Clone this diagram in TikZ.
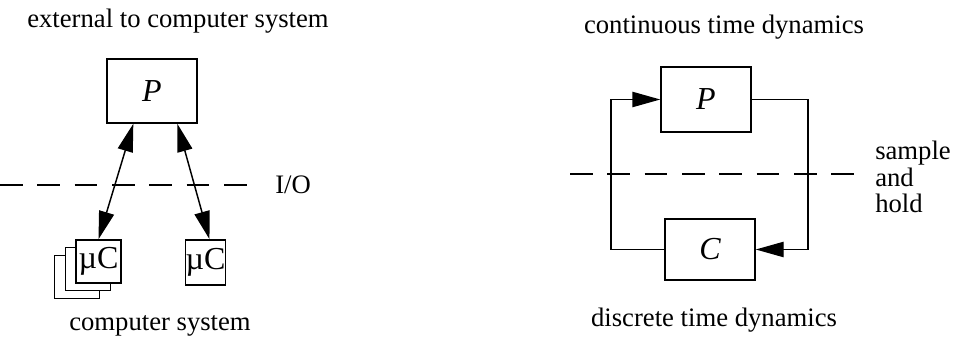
\documentclass[tikz,border=0pt]{standalone}
\usepackage{fontspec}
\setmainfont{Liberation Serif}
\usetikzlibrary{arrows.meta}
\begin{document}
\begin{tikzpicture}[x=0.75pt,y=-0.75pt,
  font=\fontsize{20}{20}\selectfont,
  blk/.style={draw,line width=1.1pt,fill=white,inner sep=0pt},
  big/.style={font=\fontsize{24}{26}\selectfont},
  wire/.style={line width=1.1pt},
  head/.tip={Triangle[length=21pt,width=11.5pt]},
  tip/.style={-head},
  dtip/.style={head-head},
  dashline/.style={line width=1.1pt,dash pattern=on 17pt off 11pt},
  lbl/.style={inner sep=0pt}]
\useasboundingbox (0,0) rectangle (957,338);

% ---- left: embedded system ----
\node[lbl,anchor=base] (ext) at (178,27.5) {external to computer system};
\node[blk,big,minimum width=67.5pt,minimum height=48pt] (P1) at (152,91) {\itshape P};

\node[blk,minimum width=33.75pt,minimum height=32.25pt] (mc3) at (77,277) {};
\node[blk,minimum width=33.75pt,minimum height=32.25pt] (mc2) at (88,269) {};
\node[blk,big,minimum width=33.75pt,minimum height=32.25pt] (mc1) at (98.5,261.5) {µC};
\node[blk,big,minimum width=27.75pt,minimum height=33.75pt] (mc4) at (205.5,262.5) {µC};

\coordinate (iol) at (0,185);
\coordinate (ior) at (258,185);
\draw[dashline] (iol) -- (ior);
\node[lbl,anchor=west] (io) at (275,185) {I/O};

\draw[wire,dtip] ([xshift=-14pt]P1.south) -- (mc1.north);
\draw[wire,dtip] ([xshift=19pt]P1.south) -- ([xshift=3pt]mc4.north);

\node[lbl,anchor=base] (cs) at (160,330) {computer system};

% ---- right: sampled-data feedback loop ----
\node[lbl,anchor=base] (ct) at (724,34) {continuous time dynamics};
\node[blk,big,minimum width=67.5pt,minimum height=48.75pt] (P2) at (706,99.5) {\itshape P};
\node[blk,big,minimum width=67.5pt,minimum height=45.75pt] (C) at (710,249.5) {\itshape C};

\coordinate (shl) at (570,174);
\coordinate (shr) at (860,174);
\draw[dashline] (shl) -- (shr);
\node[lbl,anchor=west,align=left] (sh) at (875,177) {sample\\and\\hold};

\draw[wire,tip] (P2.east) -| (808,249.5) -- (C.east);
\draw[wire,tip] (C.west) -| (611,99.5) -- (P2.west);

\node[lbl,anchor=base] (dt) at (714,327) {discrete time dynamics};
\end{tikzpicture}
\end{document}
